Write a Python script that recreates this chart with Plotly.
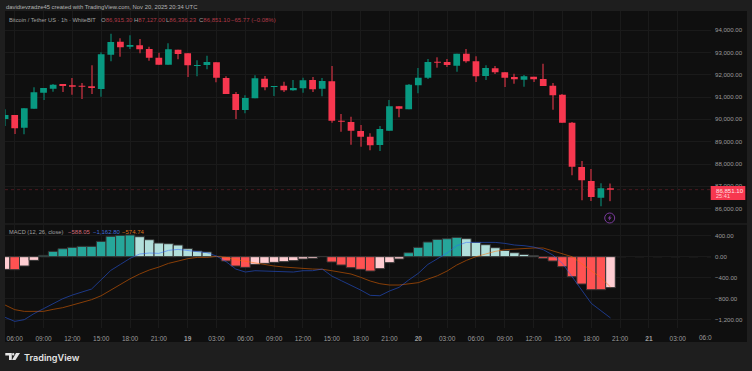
import pandas as pd
import plotly.graph_objects as go

start = "2025-11-18 05:00"
opens = [90016,90195,89627,90477,91194,91373,91583,91525,91507,91480,91360,92896,93478,93254,93316,93151,92761,92448,93119,
         92958,92390,92434,92555,91852,91136,90419,90943,91821,91449,91507,91301,91391,91763,91373,91704,89940,89882,89479,89224,88852,89492,90585,90451,
         91525,91866,92582,92569,92403,92940,92600,91942,92286,92107,91897,91776,91910,91807,91507,91104,89850,87867,87240,86492,86915.30]
closes = [90195,89600,90495,91212,91404,91552,91494,91463,91463,91404,92913,93464,93227,93330,93137,92761,92448,93137,92927,
          92421,92434,92569,91866,91136,90419,90957,91839,91436,91494,91301,91404,91749,91346,91718,89940,89895,89492,89224,88838,89568,90585,90477,91552,
          91866,92569,92537,92434,92940,92600,91928,92300,92107,91866,91794,91928,91794,91494,91077,89850,87880,87271,86523,86913,86851.10]
highs = [90451,90195,90495,91436,91404,91583,91583,91852,91628,92421,93003,93836,93630,93764,93599,93254,92985,93406,93119,
         92958,92645,92851,92555,91928,91225,91077,91973,91942,91494,91686,91763,91866,91897,91852,92390,90240,90119,89747,89376,89703,90867,90585,91583,
         92300,92703,92779,92703,92940,93151,92824,92421,92390,92107,92045,91986,91910,92493,91628,91136,89882,88135,87777,87137,87127.00]
lows = [89703,89344,89331,90477,90867,91239,91225,91104,90912,91136,91015,92600,92806,93151,92958,92627,92448,92448,92690,
        91897,91928,92242,91660,91136,90016,90271,90943,91301,91046,91225,91283,91194,91225,91033,89850,89447,88865,88776,88614,88583,89492,90092,90451,
        91167,91807,92313,92345,92134,92537,91673,91763,92031,91449,91597,91463,91673,91494,90433,89850,87495,86376,86344,86107,86336.23]
hist = [-241,-247,-177,-70,25,101,152,177,196,196,291,386,405,412,380,323,260,247,222,
        152,108,89,8,-82,-177,-203,-146,-127,-108,-95,-76,-44,-32,5,-101,-158,-209,-241,-272,-228,-114,-44,76,
        177,279,329,342,367,342,272,228,171,120,76,44,19,-32,-82,-190,-380,-519,-627,-627,-588.05]
macd = [-1152,-1228,-1196,-1082,-987,-886,-798,-728,-665,-614,-437,-260,-146,-32,51,70,63,120,139,
        114,95,76,13,-95,-234,-291,-266,-272,-285,-291,-291,-266,-266,-234,-367,-456,-538,-633,-734,-741,-652,-582,-443,
        -316,-146,-32,70,209,272,272,279,272,253,222,209,184,133,32,-127,-380,-652,-886,-1025,-1162.80]
signal = [-918,-1006,-1038,-1044,-1038,-1000,-968,-918,-867,-816,-741,-630,-520,-420,-329,-253,-197,-127,-83,
          -38,-13,-13,5,-13,-57,-88,-120,-145,-177,-196,-215,-222,-234,-239,-266,-298,-329,-392,-462,-513,-538,-538,-519,
          -493,-425,-361,-272,-158,-70,0,51,101,133,146,165,165,165,114,63,0,-133,-259,-398,-574.74]
price_ticks = [94000,93000,92000,91000,90000,89000,88000,87000,86000]
macd_ticks = [400,0,-400,-800,-1200]
macd_tick_labels = ["400.00","0.00","\u2212400.00","\u2212800.00","\u22121,200.00"]
time_ticks = ["2025-11-18 06:00","2025-11-18 09:00","2025-11-18 12:00","2025-11-18 15:00","2025-11-18 18:00","2025-11-18 21:00",
              "2025-11-19 00:00","2025-11-19 03:00","2025-11-19 06:00","2025-11-19 09:00","2025-11-19 12:00","2025-11-19 15:00","2025-11-19 18:00","2025-11-19 21:00",
              "2025-11-20 00:00","2025-11-20 03:00","2025-11-20 06:00","2025-11-20 09:00","2025-11-20 12:00","2025-11-20 15:00","2025-11-20 18:00","2025-11-20 21:00",
              "2025-11-21 00:00","2025-11-21 03:00"]
time_labels = ["06:00","09:00","12:00","15:00","18:00","21:00",
               "<b>19</b>","03:00","06:00","09:00","12:00","15:00","18:00","21:00",
               "<b>20</b>","03:00","06:00","09:00","12:00","15:00","18:00","21:00",
               "<b>21</b>","03:00"]

times = pd.date_range(start, periods=len(opens), freq="h")
GREEN, RED = "#089981", "#f7374f"
GREEN_W, RED_W = "#0b5448", "#84252f"
FONT = "Liberation Sans"

up = [c >= o for o, c in zip(opens, closes)]
cols = []
for i, v in enumerate(hist):
    prev = hist[i - 1] if i else None
    if v >= 0:
        cols.append("#26a69a" if prev is not None and v >= prev else "#b2dfdb")
    else:
        cols.append("#ff5252" if prev is not None and v <= prev else "#ffcdd2")

def px(x): return (x - 5) / 706
def py(y): return (328 - y) / 317

fig = go.Figure()
fig.add_trace(go.Bar(x=times, y=[h - l for h, l in zip(highs, lows)], base=lows, width=400000,
                     marker=dict(color=[GREEN_W if u else RED_W for u in up], line=dict(width=0)),
                     xaxis="x", yaxis="y", showlegend=False))
fig.add_trace(go.Candlestick(x=times, open=opens, high=highs, low=lows, close=closes,
                             increasing=dict(fillcolor=GREEN, line=dict(color=GREEN, width=0)),
                             decreasing=dict(fillcolor=RED, line=dict(color=RED, width=0)),
                             whiskerwidth=0, xaxis="x", yaxis="y", showlegend=False))
fig.add_trace(go.Bar(x=times, y=hist, width=3600000,
                     marker=dict(color=cols, line=dict(color="#333333", width=1)),
                     xaxis="x2", yaxis="y2", showlegend=False))
fig.add_trace(go.Scatter(x=times, y=signal, mode="lines", line=dict(color="#ff6d00", width=1), opacity=0.5,
                         xaxis="x2", yaxis="y2", showlegend=False))
fig.add_trace(go.Scatter(x=times, y=macd, mode="lines", line=dict(color="#2962ff", width=1), opacity=0.5,
                         xaxis="x2", yaxis="y2", showlegend=False))

GRID = "#1a1a1a"
TICK = "#9c9c9c"
xr = ["2025-11-18 04:59:24", "2025-11-21 06:27:36"]
axx = dict(range=xr, type="date", tickmode="array", tickvals=time_ticks, showline=False, zeroline=False,
           gridcolor=GRID, gridwidth=1, fixedrange=True, rangeslider=dict(visible=False))
fig.update_layout(
    width=752, height=371, margin=dict(l=5, r=41, t=11, b=43, pad=0),
    paper_bgcolor="#1e1e1e", plot_bgcolor="rgba(0,0,0,0)", barmode="overlay", boxgap=0,
    showlegend=False, font=dict(family=FONT, color=TICK, size=6.1),
    xaxis=dict(axx, domain=[0, 1], anchor="y", ticktext=[""] * len(time_ticks), showticklabels=False),
    xaxis2=dict(axx, domain=[0, 1], anchor="y2", ticktext=time_labels, showticklabels=True, ticks="", ticklabelstandoff=5,
                tickfont=dict(size=6.5, color=TICK)),
    yaxis=dict(domain=[py(224), 1], range=[85314, 94852], side="right", tickmode="array", tickvals=price_ticks,
               ticktext=[f"{v:,.2f}" for v in price_ticks], gridcolor=GRID, zeroline=False, ticks="", showline=False,
               ticklabelstandoff=3, tickfont=dict(size=6.1, color=TICK)),
    yaxis2=dict(domain=[0, py(224)], range=[-1354, 621], side="right", tickmode="array", tickvals=macd_ticks,
                ticktext=macd_tick_labels, gridcolor=GRID, zeroline=False, ticks="", showline=False,
                ticklabelstandoff=3, tickfont=dict(size=6.1, color=TICK)),
)

LOGO = "#e4e4e4"
BOLT = "#7a3a9c"
shapes = [
    dict(type="rect", xref="paper", yref="paper", x0=px(5), x1=px(747), y0=py(342), y1=py(11), fillcolor="#0f0f0f", line=dict(width=0), layer="below"),
    dict(type="line", xref="paper", yref="paper", x0=px(5), x1=px(747), y0=py(224), y1=py(224), line=dict(color="#262626", width=1), layer="below"),
    dict(type="line", xref="paper", yref="y", x0=0, x1=1, y0=closes[-1], y1=closes[-1], line=dict(color="#4a1a20", width=1, dash="dot"), layer="below"),
    dict(type="line", xref="paper", yref="y2", x0=0, x1=1, y0=0, y1=0, line=dict(color="#3a3a3a", width=1, dash="dash"), layer="below"),
    dict(type="rect", xref="paper", yref="paper", x0=px(710.7), x1=px(745.3), y0=py(200), y1=py(186), fillcolor=RED, line=dict(width=0)),
    dict(type="circle", xref="paper", yref="paper", x0=px(604.7), x1=px(614.7), y0=py(223), y1=py(213), fillcolor="rgba(0,0,0,0)", line=dict(color=BOLT, width=1)),
    dict(type="path", xref="paper", yref="paper", line=dict(width=0), fillcolor=BOLT,
         path=f"M {px(610.6)} {py(214.9)} L {px(607.7)} {py(218.6)} H {px(609.3)} L {px(608.7)} {py(221.1)} L {px(611.7)} {py(217.4)} H {px(610.1)} Z"),
    # TradingView logo
    dict(type="path", xref="paper", yref="paper", line=dict(width=0), fillcolor=LOGO,
         path=f"M {px(5.3)} {py(353)} H {px(11.8)} V {py(360)} H {px(9)} V {py(355.4)} H {px(5.3)} Z"),
    dict(type="circle", xref="paper", yref="paper", x0=px(12), x1=px(14.4), y0=py(355.4), y1=py(353), fillcolor=LOGO, line=dict(width=0)),
    dict(type="path", xref="paper", yref="paper", line=dict(width=0), fillcolor=LOGO,
         path=f"M {px(16)} {py(353)} H {px(20)} L {px(15.5)} {py(360)} H {px(12)} Z"),
]

def label(x, y, text, size=5.7, color="#a0a0a0", anchor="left", family=FONT, weight=None):
    font = dict(family=family, size=size, color=color)
    if weight:
        font["weight"] = weight
    return dict(xref="paper", yref="paper", x=px(x), y=py(y), text=text, showarrow=False, xanchor=anchor, yanchor="middle",
                borderpad=0, font=font)

V = "#b03a48"
anns = [
    label(5, 6.5, "davidtevzadze45 created with TradingView.com, Nov 20, 2025 20:34 UTC", color="#b4b4b4", size=5.87),
    label(8, 20, "Bitcoin / Tether US \u00b7 1h \u00b7 WhiteBIT", size=5.7),
    label(100, 20, f'O<span style="color:{V}">86,915.30</span>', size=6),
    label(133, 20, f'H<span style="color:{V}">87,127.00</span>', size=6),
    label(165, 20, f'L<span style="color:{V}">86,336.23</span>', size=6),
    label(198, 20, f'C<span style="color:{V}">86,851.10</span>', size=6),
    label(230, 20, "\u221265.77 (\u22120.08%)", color=V, size=6),
    label(8.3, 231.5, "MACD (12, 26, close)"),
    label(66.7, 231.5, "\u2212588.05", color="#d06a78", size=6),
    label(91.7, 231.5, "\u22121,162.80", color="#3f6bd8", size=6),
    label(121, 231.5, "\u2212574.74", color="#d9701c", size=6),
    label(715, 190, "86,851.10", color="#ffe4e8", size=6.1),
    label(715, 196, "25:41", color="#ffd0d6", size=5.6),
    label(697.6, 337, "06:0", color=TICK, size=6.5),
    label(22.7, 357, "TradingView", color=LOGO, size=9.1, family="Inter", weight=600),
]
fig.update_layout(shapes=shapes, annotations=anns)
fig.write_html("out.html", config={"displayModeBar": False}, post_script="document.body.style.margin='0';")
